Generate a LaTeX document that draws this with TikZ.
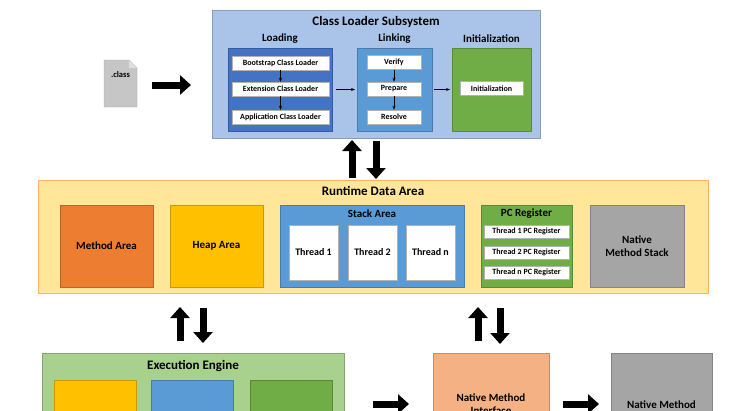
\documentclass[tikz,border=0pt]{standalone}
\usepackage{fontspec}
\setmainfont{Carlito}
\usetikzlibrary{arrows.meta,positioning}
\definecolor{clsblue}{HTML}{A9C4E8}
\definecolor{dkblue}{HTML}{4472C4}
\definecolor{mdblue}{HTML}{5B9BD5}
\definecolor{grn}{HTML}{70AD47}
\definecolor{ltgrn}{HTML}{A9D18E}
\definecolor{ltyel}{HTML}{FFE699}
\definecolor{orng}{HTML}{ED7D31}
\definecolor{yel}{HTML}{FFC000}
\definecolor{gry}{HTML}{A5A5A5}
\definecolor{salmon}{HTML}{F4B183}
\tikzset{
  box/.style 2 args = {draw=#1!80!black, fill=#1, minimum width=#2,
                inner sep=0pt, outer sep=0pt},
  wbox/.style = {draw=gray!60, fill=white, minimum height=14pt,
                inner sep=0pt, font=\fontsize{8}{9}\selectfont\bfseries},
  title/.style = {font=\fontsize{13}{14}\selectfont\bfseries},
  sub/.style = {font=\fontsize{11}{13}\selectfont\bfseries},
  big/.style = {line width=7pt, -{Triangle[length=11pt,width=19pt]}},
  small/.style = {line width=0.8pt, -{Stealth[length=4pt]}}
}
\begin{document}
\begin{tikzpicture}[x=1pt,y=-1pt]
	\useasboundingbox (0,0) rectangle (750,410);

	% .class file
	\fill[gray!45, draw=gray!70] (104,60) -- (129,60) -- (137,68) -- (137,107) -- (104,107) -- cycle;
	\fill[gray!25] (129,60) -- (129,68) -- (137,68) -- cycle;
	\node[inner sep=0pt, font=\fontsize{8.5}{9}\selectfont\bfseries] (file) at (120.5,75) {.class};
	\coordinate (fileA) at (152,85);
	\coordinate (fileB) at (191,85);
	\draw[big] (fileA) -- (fileB);

	% Class Loader Subsystem
	\node[box={clsblue}{328pt}, minimum height=128pt] (cls) at (376,74) {};
	\node[title] (clsT) at (376,22) {Class Loader Subsystem};
	\node[sub] (loadT) at (280,39) {Loading};
	\node[sub] (linkT) at (394.5,39) {Linking};
	\node[sub] (initT) at (491.5,39) {Initialization};

	\node[box={dkblue}{104pt}, minimum height=83pt] (load) at (280,89.5) {};
	\node[wbox, minimum width=97pt] (boot) at (280.5,63) {Bootstrap Class Loader};
	\node[wbox, minimum width=97pt] (ext) at (280.5,89) {Extension Class Loader};
	\node[wbox, minimum width=97pt] (app) at (280.5,117) {Application Class Loader};
	\draw[small] (boot) -- (ext);
	\draw[small] (ext) -- (app);

	\node[box={mdblue}{75pt}, minimum height=83pt] (link) at (394.5,89.5) {};
	\node[wbox, minimum width=54pt] (verify) at (394,62.5) {Verify};
	\node[wbox, minimum width=54pt] (prep) at (394,89) {Prepare};
	\node[wbox, minimum width=54pt] (res) at (394,117) {Resolve};
	\draw[small] (verify) -- (prep);
	\draw[small] (prep) -- (res);

	\node[box={grn}{79pt}, minimum height=83pt] (init) at (491.5,89.5) {};
	\node[wbox, minimum width=63pt] (initB) at (491.5,88.5) {Initialization};

	\draw[small] ([xshift=4pt]load.east) -- ([xshift=-2pt]link.west);
	\draw[small] ([xshift=2pt]link.east) -- ([xshift=-2pt]init.west);

	% Runtime Data Area
	\node[box={ltyel}{670pt}, minimum height=113pt, draw=orange!60] (rda) at (373,236.5) {};
	\node[title] (rdaT) at (373,191) {Runtime Data Area};

	\draw[big] (cls.south -| 352,0) ++(0,40) -- ++(0,-38);
	\draw[big] (cls.south -| 376,0) ++(0,3) -- ++(0,38);

	\node[box={orng}{93pt}, minimum height=82pt, sub] (meth) at (106.5,246) {Method Area};
	\node[box={yel}{93pt}, minimum height=82pt, sub] (heap) at (216.5,246) {Heap Area};
	\node[box={mdblue}{184pt}, minimum height=82pt] (stack) at (372,246) {};
	\node[sub] (stackT) at (372,214) {Stack Area};
	\foreach \x/\n in {313.5/1, 372.5/2, 430.5/n}
		\node[wbox, minimum width=49pt, minimum height=55pt, font=\fontsize{10}{11}\selectfont\bfseries] (th\n) at (\x,252.5) {Thread \n};
	\node[box={grn}{91pt}, minimum height=82pt] (pc) at (526.5,246) {};
	\node[sub] (pcT) at (526.5,214) {PC Register};
	\foreach \y/\n in {231.5/1, 252.5/2, 272.5/n}
		\node[wbox, minimum width=85pt, minimum height=13pt] (pc\n) at (526.5,\y) {Thread \n\ PC Register};
	\node[box={gry}{94pt}, minimum height=82pt, sub, align=center] (nms) at (637,246) {Native\\Method Stack};

	% Execution Engine
	\node[box={ltgrn}{302pt}, minimum height=74pt] (exe) at (193,390) {};
	\node[title] (exeT) at (193,366) {Execution Engine};
	\node[box={yel}{82pt}, minimum height=50pt] (exe1) at (95,405) {};
	\node[box={mdblue}{82pt}, minimum height=50pt] (exe2) at (192.5,405) {};
	\node[box={grn}{82pt}, minimum height=50pt] (exe3) at (291,405) {};

	\draw[big] (180,341) -- (180,307);
	\draw[big] (203,308) -- (203,343);
	\draw[big] (478,341) -- (478,307);
	\draw[big] (500,308) -- (500,344);

	% Native Method Interface / Libraries
	\node[box={salmon}{116pt}, minimum height=74pt] (nmi) at (491,390) {};
	\node[sub, align=center] (nmiT) at (491,404) {Native Method\\Interface};
	\node[box={gry}{101pt}, minimum height=74pt] (nml) at (661.5,390) {};
	\node[sub, align=center] (nmlT) at (661.5,411) {Native Method\\Libraries};

	\draw[big] (373,404) -- ([xshift=-24pt]nmi.west |- 0,404);
	\draw[big] (563,404) -- ([xshift=-12pt]nml.west |- 0,404);
\end{tikzpicture}
\end{document}
